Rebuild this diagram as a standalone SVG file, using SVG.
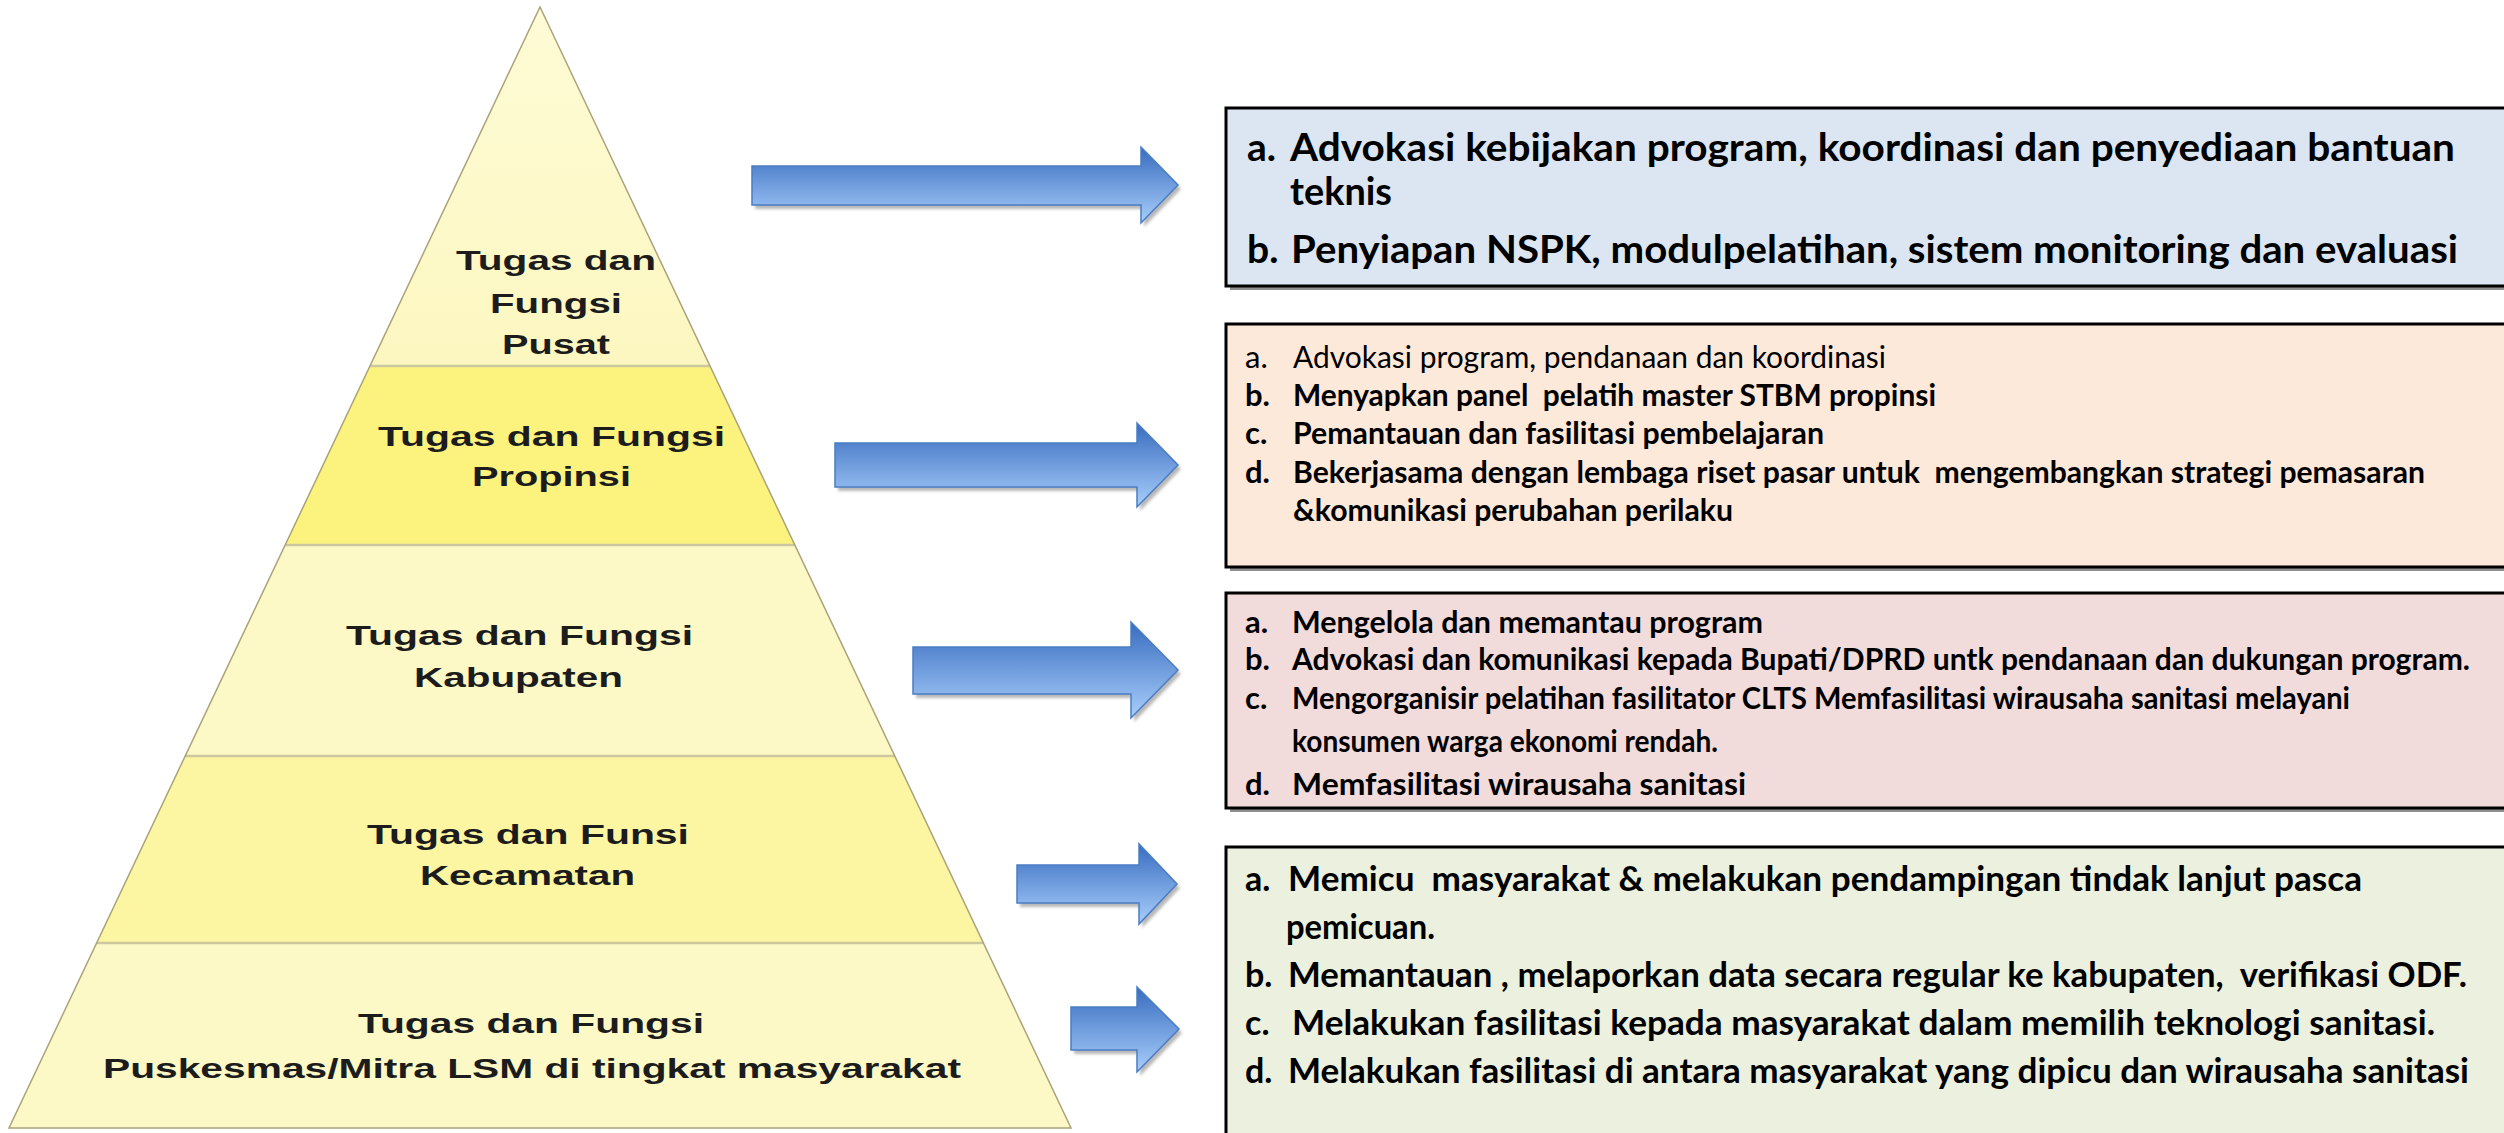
<svg xmlns="http://www.w3.org/2000/svg" width="2504" height="1133" viewBox="0 0 2504 1133">
<defs>
  <linearGradient id="arrowGrad" x1="0" y1="0" x2="0" y2="1">
    <stop offset="0" stop-color="#386cbf"/>
    <stop offset="1" stop-color="#a8cefb"/>
  </linearGradient>
  <linearGradient id="topGrad" x1="0" y1="0" x2="0" y2="1">
    <stop offset="0" stop-color="#fefbd6"/>
    <stop offset="1" stop-color="#fcf7c0"/>
  </linearGradient>
  <filter id="blur" x="-10%" y="-30%" width="130%" height="180%">
    <feGaussianBlur stdDeviation="1.5"/>
  </filter>
</defs>
<style>
  .pyr { font-family: "Liberation Sans", Arial, sans-serif; font-weight: bold; font-size: 27px; fill: #1c1c1c; }
  .bx { font-family: Lato, "Liberation Sans", sans-serif; font-weight: bold; fill: #000; }
  .b1 { font-size: 39px; }
  .b23 { font-size: 31px; }
  .b4 { font-size: 34px; }
  .reg { font-weight: normal; }
  .box { stroke: #000; stroke-width: 3; }
  .boxshadow { fill: #8f8f8f; }
  .arrow { fill: url(#arrowGrad); stroke: #4a7dc4; stroke-width: 1.5; }
  .arrowshadow { fill: #000; opacity: 0.28; filter: url(#blur); }
  .sep { stroke: #cdc7a0; stroke-width: 2.5; }
  .outline { fill: none; stroke: #aaa37a; stroke-width: 1.5; }
</style>
<rect x="0" y="0" width="2504" height="1133" fill="#ffffff"/>

<!-- Pyramid -->
<g id="pyramid">
  <g id="level-pusat">
    <polygon points="540,7 710,366 370,366" fill="url(#topGrad)"/>
    <text class="pyr" x="456" y="270" textLength="200" lengthAdjust="spacingAndGlyphs">Tugas dan</text>
    <text class="pyr" x="490" y="313" textLength="132" lengthAdjust="spacingAndGlyphs">Fungsi</text>
    <text class="pyr" x="502" y="354" textLength="108" lengthAdjust="spacingAndGlyphs">Pusat</text>
  </g>
  <g id="level-propinsi">
    <polygon points="370,366 710,366 795,545 285,545" fill="#fcf37e"/>
    <text class="pyr" x="378" y="446" textLength="347" lengthAdjust="spacingAndGlyphs">Tugas dan Fungsi</text>
    <text class="pyr" x="472" y="486" textLength="159" lengthAdjust="spacingAndGlyphs">Propinsi</text>
  </g>
  <g id="level-kabupaten">
    <polygon points="285,545 795,545 895,756 185,756" fill="#fdf9c6"/>
    <text class="pyr" x="346" y="645" textLength="347" lengthAdjust="spacingAndGlyphs">Tugas dan Fungsi</text>
    <text class="pyr" x="414" y="687" textLength="209" lengthAdjust="spacingAndGlyphs">Kabupaten</text>
  </g>
  <g id="level-kecamatan">
    <polygon points="185,756 895,756 983,943 97,943" fill="#fcf6a2"/>
    <text class="pyr" x="367" y="844" textLength="322" lengthAdjust="spacingAndGlyphs">Tugas dan Funsi</text>
    <text class="pyr" x="420" y="885" textLength="215" lengthAdjust="spacingAndGlyphs">Kecamatan</text>
  </g>
  <g id="level-puskesmas">
    <polygon points="97,943 983,943 1071,1128 9,1128" fill="#fdf9c6"/>
    <text class="pyr" x="358" y="1033" textLength="346" lengthAdjust="spacingAndGlyphs">Tugas dan Fungsi</text>
    <text class="pyr" x="103" y="1078" textLength="858" lengthAdjust="spacingAndGlyphs">Puskesmas/Mitra LSM di tingkat masyarakat</text>
  </g>
  <line class="sep" x1="370" y1="366" x2="710" y2="366"/>
  <line class="sep" x1="285" y1="545" x2="795" y2="545"/>
  <line class="sep" x1="185" y1="756" x2="895" y2="756"/>
  <line class="sep" x1="97" y1="943" x2="983" y2="943"/>
  <polygon class="outline" points="540,7 1071,1128 9,1128"/>
</g>

<!-- Connectors (block arrows) -->
<g id="connectors">
  <g transform="translate(3,4)">
    <polygon class="arrowshadow" points="752,166 1141,166 1141,147 1178,185 1141,223 1141,205 752,205"/>
    <polygon class="arrowshadow" points="835,443 1137,443 1137,423 1178,465 1137,507 1137,487 835,487"/>
    <polygon class="arrowshadow" points="913,647 1131,647 1131,622 1178,670 1131,718 1131,694 913,694"/>
    <polygon class="arrowshadow" points="1017,865 1139,865 1139,844 1177,884 1139,924 1139,903 1017,903"/>
    <polygon class="arrowshadow" points="1071,1007 1137,1007 1137,987 1179,1029 1137,1072 1137,1050 1071,1050"/>
  </g>
  <polygon class="arrow" points="752,166 1141,166 1141,147 1178,185 1141,223 1141,205 752,205"/>
  <polygon class="arrow" points="835,443 1137,443 1137,423 1178,465 1137,507 1137,487 835,487"/>
  <polygon class="arrow" points="913,647 1131,647 1131,622 1178,670 1131,718 1131,694 913,694"/>
  <polygon class="arrow" points="1017,865 1139,865 1139,844 1177,884 1139,924 1139,903 1017,903"/>
  <polygon class="arrow" points="1071,1007 1137,1007 1137,987 1179,1029 1137,1072 1137,1050 1071,1050"/>
</g>

<!-- Box 1: Pusat -->
<g id="box-pusat">
  <rect class="boxshadow" x="1230" y="112" width="1300" height="178"/>
  <rect class="box" x="1226" y="108" width="1300" height="178" fill="#dce6f2"/>
  <text class="bx b1" x="1247" y="161">a.</text>
  <text class="bx b1" x="1290" y="161" textLength="1165" lengthAdjust="spacingAndGlyphs">Advokasi kebijakan program, koordinasi dan penyediaan bantuan</text>
  <text class="bx b1" x="1290" y="205" textLength="102" lengthAdjust="spacingAndGlyphs">teknis</text>
  <text class="bx b1" x="1247" y="263">b.</text>
  <text class="bx b1" x="1291" y="263" textLength="1167" lengthAdjust="spacingAndGlyphs">Penyiapan NSPK, modulpelatihan, sistem monitoring dan evaluasi</text>
</g>

<!-- Box 2: Propinsi -->
<g id="box-propinsi">
  <rect class="boxshadow" x="1230" y="328" width="1300" height="243"/>
  <rect class="box" x="1226" y="324" width="1300" height="243" fill="#fde9d9"/>
  <text class="bx b23 reg" x="1245" y="368">a.</text>
  <text class="bx b23 reg" x="1293" y="368" textLength="593" lengthAdjust="spacingAndGlyphs">Advokasi program, pendanaan dan koordinasi</text>
  <text class="bx b23" x="1245" y="406">b.</text>
  <text class="bx b23" x="1293" y="406" xml:space="preserve" textLength="643" lengthAdjust="spacingAndGlyphs">Menyapkan panel  pelatih master STBM propinsi</text>
  <text class="bx b23" x="1245" y="444">c.</text>
  <text class="bx b23" x="1293" y="444" textLength="531" lengthAdjust="spacingAndGlyphs">Pemantauan dan fasilitasi pembelajaran</text>
  <text class="bx b23" x="1245" y="483">d.</text>
  <text class="bx b23" x="1293" y="483" xml:space="preserve" textLength="1132" lengthAdjust="spacingAndGlyphs">Bekerjasama dengan lembaga riset pasar untuk  mengembangkan strategi pemasaran</text>
  <text class="bx b23" x="1293" y="521" textLength="440" lengthAdjust="spacingAndGlyphs">&amp;komunikasi perubahan perilaku</text>
</g>

<!-- Box 3: Kabupaten -->
<g id="box-kabupaten">
  <rect class="boxshadow" x="1230" y="597" width="1300" height="215"/>
  <rect class="box" x="1226" y="593" width="1300" height="215" fill="#f2dcdb"/>
  <text class="bx b23" x="1245" y="633">a.</text>
  <text class="bx b23" x="1292" y="633" textLength="471" lengthAdjust="spacingAndGlyphs">Mengelola dan memantau program</text>
  <text class="bx b23" x="1245" y="670">b.</text>
  <text class="bx b23" x="1292" y="670" textLength="1178" lengthAdjust="spacingAndGlyphs">Advokasi dan komunikasi kepada Bupati/DPRD untk pendanaan dan dukungan program.</text>
  <text class="bx b23" x="1245" y="709">c.</text>
  <text class="bx b23" x="1292" y="709" textLength="1058" lengthAdjust="spacingAndGlyphs">Mengorganisir pelatihan fasilitator CLTS Memfasilitasi wirausaha sanitasi melayani</text>
  <text class="bx b23" x="1292" y="752" textLength="426" lengthAdjust="spacingAndGlyphs">konsumen warga ekonomi rendah.</text>
  <text class="bx b23" x="1245" y="795">d.</text>
  <text class="bx b23" x="1292" y="795" textLength="454" lengthAdjust="spacingAndGlyphs">Memfasilitasi wirausaha sanitasi</text>
</g>

<!-- Box 4: Kecamatan / Puskesmas -->
<g id="box-kecamatan">
  <rect class="boxshadow" x="1230" y="851" width="1300" height="300"/>
  <rect class="box" x="1226" y="847" width="1300" height="300" fill="#ebf1de"/>
  <text class="bx b4" x="1245" y="891">a.</text>
  <text class="bx b4" x="1288" y="891" xml:space="preserve" textLength="1074" lengthAdjust="spacingAndGlyphs">Memicu  masyarakat &amp; melakukan pendampingan tindak lanjut pasca</text>
  <text class="bx b4" x="1286" y="939" textLength="149" lengthAdjust="spacingAndGlyphs">pemicuan.</text>
  <text class="bx b4" x="1245" y="987">b.</text>
  <text class="bx b4" x="1288" y="987" xml:space="preserve" textLength="1179" lengthAdjust="spacingAndGlyphs">Memantauan , melaporkan data secara regular ke kabupaten,  verifikasi ODF.</text>
  <text class="bx b4" x="1245" y="1035">c.</text>
  <text class="bx b4" x="1292" y="1035" textLength="1143" lengthAdjust="spacingAndGlyphs">Melakukan fasilitasi kepada masyarakat dalam memilih teknologi sanitasi.</text>
  <text class="bx b4" x="1245" y="1083">d.</text>
  <text class="bx b4" x="1288" y="1083" textLength="1181" lengthAdjust="spacingAndGlyphs">Melakukan fasilitasi di antara masyarakat yang dipicu dan wirausaha sanitasi</text>
</g>
</svg>
